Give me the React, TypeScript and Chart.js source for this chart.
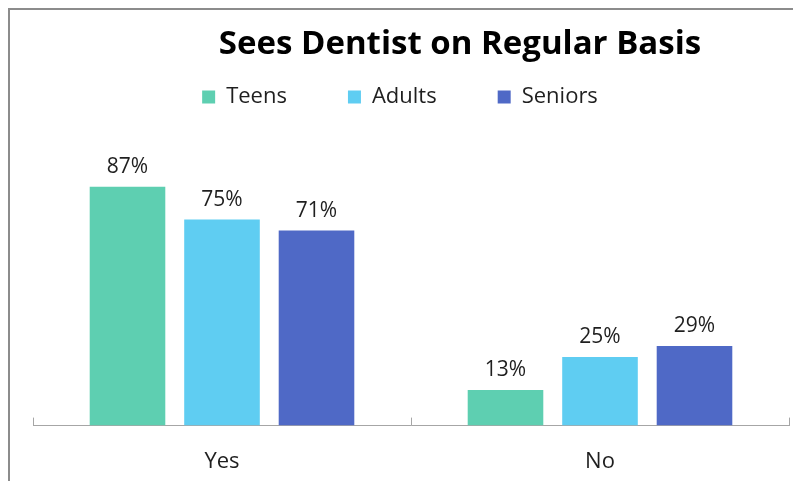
import React, { useEffect, useRef } from "react";
import { Chart, registerables } from "chart.js";

Chart.register(...registerables);

const categories = ["Yes", "No"];
const seriesNames = ["Teens", "Adults", "Seniors"];
const teens = [87, 13];
const adults = [75, 25];
const seniors = [71, 29];
const colors = ["#5ECFB1", "#5FCDF2", "#4F69C6"];
const title = "Sees Dentist on Regular Basis";

const FONT = "'Open Sans', 'Noto Sans', sans-serif";

const titlePlugin = {
  id: "customTitle",
  afterDraw(chart: any) {
    const { ctx, chartArea } = chart;
    ctx.save();
    ctx.font = `bold 33px ${FONT}`;
    ctx.fillStyle = "#000";
    ctx.textAlign = "center";
    ctx.textBaseline = "alphabetic";
    ctx.fillText(title, (chartArea.left + chartArea.right) / 2 + 49, 54);
    ctx.restore();
  },
};

const valueLabels = {
  id: "valueLabels",
  afterDatasetsDraw(chart: any) {
    const { ctx } = chart;
    ctx.save();
    ctx.font = `21px ${FONT}`;
    ctx.fillStyle = "#1F1F1F";
    ctx.textAlign = "center";
    ctx.textBaseline = "alphabetic";
    chart.data.datasets.forEach((ds: any, i: number) => {
      const meta = chart.getDatasetMeta(i);
      meta.data.forEach((el: any, j: number) => {
        ctx.fillText(ds.data[j] + "%", el.x, el.y - 14);
      });
    });
    ctx.restore();
  },
};

const upTicks = {
  id: "upTicks",
  afterDraw(chart: any) {
    const { ctx } = chart;
    const xs = chart.scales.x;
    const n = chart.data.labels.length;
    const w = (xs.right - xs.left) / n;
    ctx.save();
    ctx.strokeStyle = "#A6A6A6";
    ctx.lineWidth = 1;
    for (let i = 0; i <= n; i++) {
      const x = Math.round(xs.left + i * w) + 0.5;
      ctx.beginPath();
      ctx.moveTo(x, xs.top - 8);
      ctx.lineTo(x, xs.top);
      ctx.stroke();
    }
    ctx.restore();
  },
};

export default function App() {
  const ref = useRef<HTMLCanvasElement>(null);
  useEffect(() => {
    const chart = new Chart(ref.current!, {
      type: "bar",
      data: {
        labels: categories,
        datasets: [teens, adults, seniors].map((d, i) => ({
          label: seriesNames[i],
          data: d,
          backgroundColor: colors[i],
          categoryPercentage: 0.75,
          barPercentage: 0.8,
        })),
      },
      options: {
        animation: false,
        responsive: true,
        maintainAspectRatio: false,
        layout: { padding: { top: 25, left: 11, right: 4, bottom: -17 } },
        plugins: {
          title: { display: false },
          tooltip: { enabled: false },
          legend: {
            position: "top",
            labels: {
              boxWidth: 13,
              boxHeight: 13,
              padding: 61,
              color: "#1F1F1F",
              font: { family: FONT, size: 22 },
            },
          },
        },
        scales: {
          x: {
            grid: { display: false, drawTicks: false },
            border: { display: true, color: "#A6A6A6", width: 1 },
            ticks: { color: "#1F1F1F", padding: 23, font: { family: FONT, size: 22 } },
          },
          y: {
            display: true,
            min: 0,
            max: 112,
            grid: { display: false, drawTicks: false },
            border: { display: false },
            ticks: { display: false },
            afterFit(scale: any) {
              scale.width = 22;
            },
          },
        },
      },
      plugins: [titlePlugin, valueLabels, upTicks],
    });
    return () => chart.destroy();
  }, []);
  return (
    <div style={{ position: "fixed", left: 0, top: 0, width: 793, height: 481, background: "#fff", overflow: "hidden" }}>
      <div
        style={{
          position: "absolute",
          left: 8,
          top: 8,
          width: 900,
          height: 600,
          borderLeft: "2px solid #8C8C8C",
          borderTop: "2px solid #8C8C8C",
        }}
      />
      <div style={{ position: "absolute", left: 0, top: 0, width: 793, height: 481 }}>
        <canvas ref={ref} />
      </div>
    </div>
  );
}
